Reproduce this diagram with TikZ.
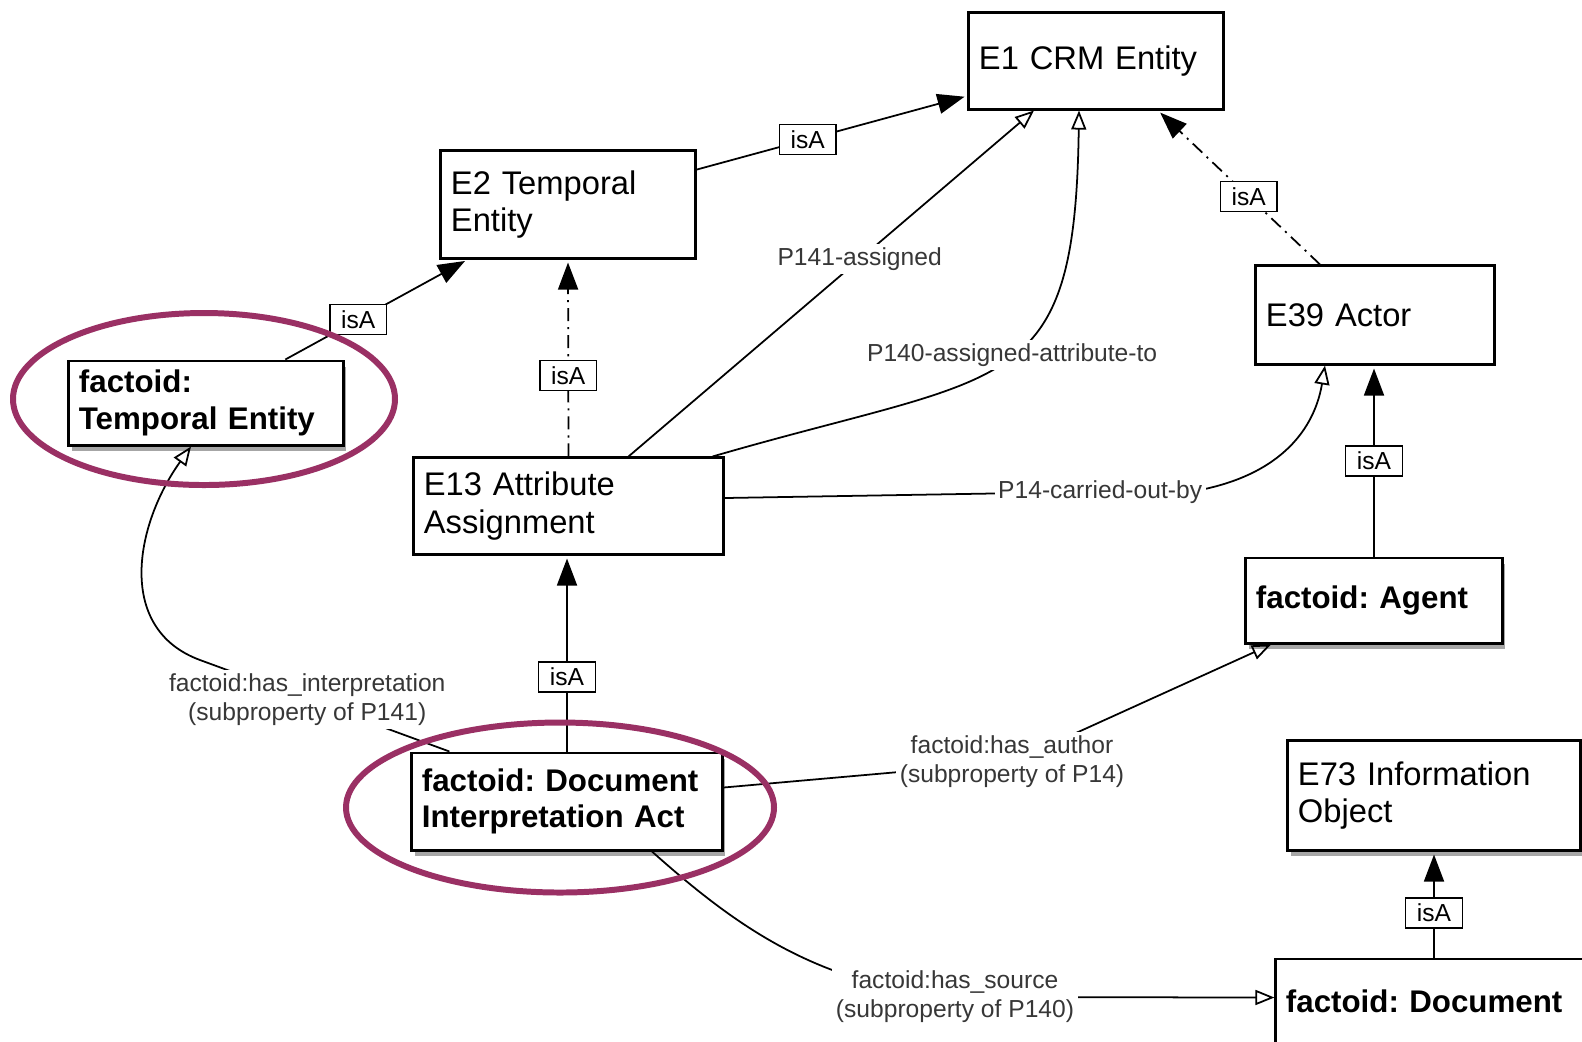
\documentclass[tikz,border=0pt]{standalone}
\usepackage{fontspec}
\setmainfont{Liberation Sans}
\usepackage{tikz}
\usetikzlibrary{arrows.meta,calc,shadows}
\definecolor{ringpurple}{RGB}{154,48,100}
\definecolor{lblgray}{RGB}{55,55,55}
\frenchspacing

\begin{document}
\begin{tikzpicture}[x=0.01cm,y=-0.01cm,
  cls/.style={draw, line width=0.85pt, fill=white, align=left, inner xsep=0.1cm, inner ysep=0pt,
    font=\fontsize{9.3}{10.7}\selectfont},
  fct/.style={cls, font=\fontsize{8.9}{10.4}\selectfont\bfseries},
  shad/.style={drop shadow={shadow xshift=0.03cm, shadow yshift=-0.06cm, fill=black, opacity=0.35}},
  isa/.style={line width=0.5pt, -{Triangle[length=0.27cm, width=0.2cm]}, shorten >=0.03cm},
  isadash/.style={isa, dash pattern=on 3.7pt off 1.7pt on 0.6pt off 1.7pt},
  prop/.style={line width=0.5pt, -{Triangle[open, length=0.19cm, width=0.15cm]}},
  isalbl/.style={draw, solid, line width=0.4pt, fill=white, inner xsep=3.2pt, inner ysep=1.7pt,
    font=\fontsize{7}{8}\selectfont},
  lbl/.style={fill=white, text=lblgray, align=center, inner sep=1pt, font=\fontsize{7}{8.3}\selectfont},
  ring/.style={draw=ringpurple, line width=1.7pt}]
  \useasboundingbox (0,0) rectangle (1582,1041);
  \fill[white] (0,0) rectangle (1582,1041);

  % CRM classes
  \node[cls, text width=2.34cm, minimum height=0.96cm] (e1) at (1096,61) {E1 CRM Entity};
  \node[cls, text width=2.34cm, minimum height=1.07cm] (e2) at (568,204.5) {E2 Temporal\\Entity};
  \node[cls, text width=2.89cm, minimum height=0.96cm] (e13) at (568.5,506) {E13 Attribute\\Assignment};
  \node[cls, text width=2.18cm, minimum height=0.98cm] (e39) at (1375,315) {E39 Actor};
  \node[cls, shad, text width=2.72cm, minimum height=1.09cm] (e73) at (1434,795.5) {E73 Information\\Object};

  % factoid classes
  \node[fct, shad, text width=2.54cm, minimum height=0.84cm] (fte) at (206,403) {factoid:\\Temporal Entity};
  \node[fct, shad, text width=2.90cm, minimum height=0.97cm] (dia) at (567,801.5) {factoid: Document\\Interpretation Act};
  \node[fct, shad, text width=2.36cm, minimum height=0.85cm] (agent) at (1374,600.5) {factoid: Agent};
  \node[fct, shad, text width=3.10cm, minimum height=0.85cm] (doc) at (1441,1001.5) {factoid: Document};

  % isA links
  \draw[isa] (e2) -- node[isalbl, pos=0.41] {isA} (e1);
  \draw[isa] (fte) -- node[isalbl, pos=0.40] {isA} (e2);
  \draw[isadash] (e13.north) -- node[isalbl, pos=0.41] {isA} (e2.south);
  \draw[isadash] ($(e39.north)+(-55,0)$) -- node[isalbl, pos=0.44] {isA} ($(e1.south)+(62,0)$);
  \draw[isa] (agent.north) -- node[isalbl] {isA} (agent.north |- e39.south);
  \draw[isa] (dia.north) -- node[isalbl, pos=0.38] {isA} (dia.north |- e13.south);
  \draw[isa] (e73.south |- doc.north) -- node[isalbl, pos=0.42] {isA} (e73.south);

  % properties
  \draw[prop] ($(e13.north)+(60,0)$) -- node[lbl, pos=0.57] {P141-assigned} ($(e1.south)+(-62,0)$);
  \draw[prop] ($(e13.north east)+(-12,0)$) .. controls (1010,370) and (1075,400) ..
    node[lbl, pos=0.52] {P140-assigned-attribute-to} ($(e1.south)+(-17,0)$);
  \draw[prop] ($(e13.east)+(0,-8)$) -- node[lbl, pos=0.79] {P14-carried-out-by} (1200,490)
    .. controls (1290,472) and (1316,420) .. ($(e39.south)+(-50,0)$);
  \draw[prop] ($(dia.north west)+(39,0)$) --
    node[lbl, pos=0.57] {factoid:has\_interpretation\\(subproperty of P141)} (200,660)
    .. controls (115.6,628.8) and (135,525) .. ($(fte.south)+(-15,0)$);
  \draw[prop] ($(dia.east)+(0,-14)$) -- (1012,762)
    node[lbl] {factoid:has\_author\\(subproperty of P14)} -- ($(agent.south)+(-103,0)$);
  \draw[prop] ($(dia.south)+(85,0)$) .. controls (740,930) and (820,985) .. (955,997)
    node[lbl] {factoid:has\_source\\(subproperty of P140)} -- ($(doc.west)+(0,-4)$);

  % highlight rings
  \draw[ring] ($(fte)+(-2,-4)$) ellipse [x radius=191, y radius=86];
  \draw[ring] ($(dia)+(-7,6)$) ellipse [x radius=214, y radius=85];
\end{tikzpicture}
\end{document}
